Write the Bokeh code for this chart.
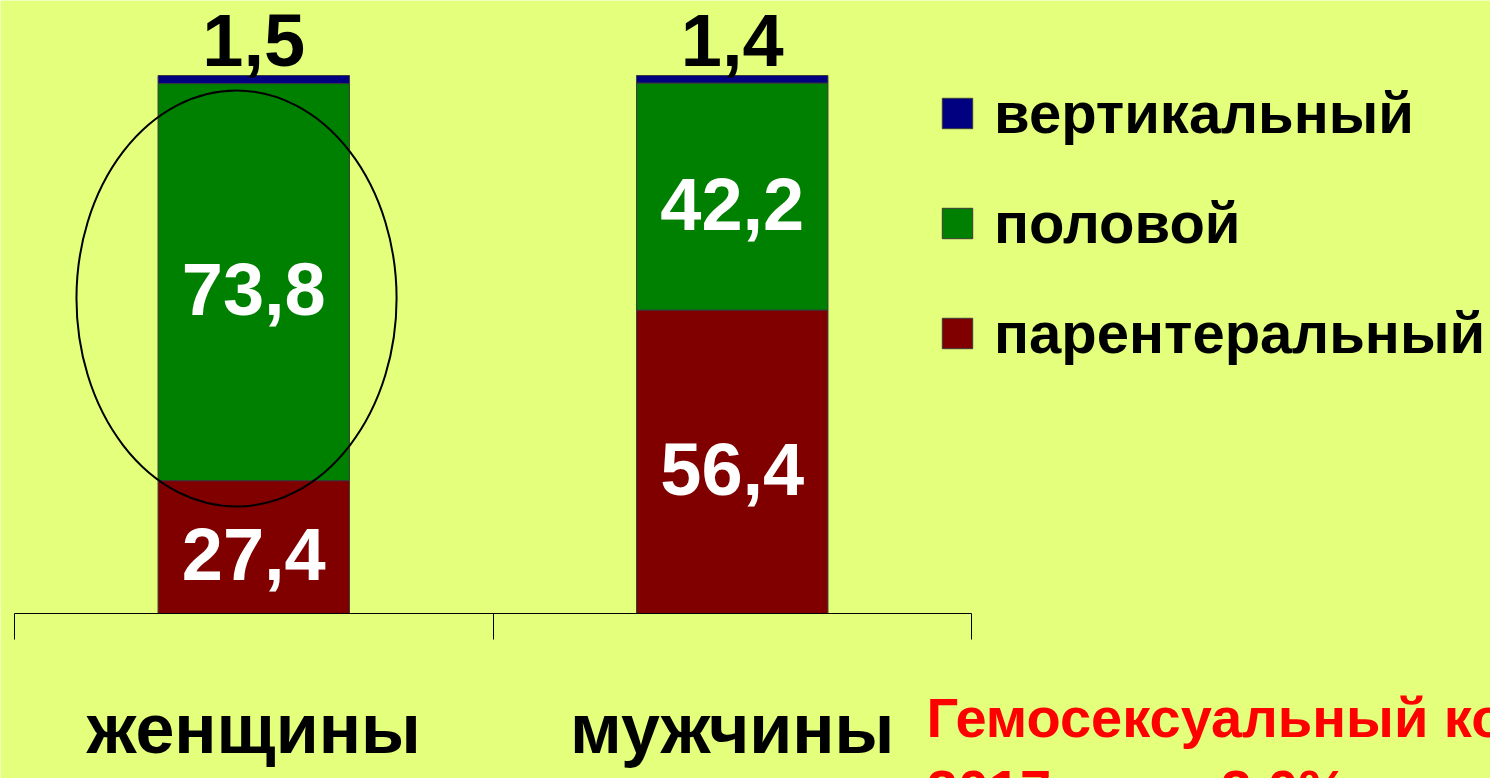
from bokeh.plotting import figure
from bokeh.models import (ColumnDataSource, Range1d, LinearAxis, FixedTicker,
                          Legend, LegendItem, Label)
from bokeh.core.properties import value
from bokeh.embed import file_html
from bokeh.resources import INLINE

# ---------------- data ----------------
categories = ["женщины", "мужчины"]
series_names = ["парентеральный", "половой", "вертикальный"]
# bar heights as drawn in the picture (100 % stacked)
parenteral = [24.7, 56.4]
sexual = [73.8, 42.2]
vertical = [1.5, 1.4]
# value labels printed on the picture
parenteral_labels = ["27,4", "56,4"]
sexual_labels = ["73,8", "42,2"]
vertical_labels = ["1,5", "1,4"]
note_lines = ["Гемосексуальный контакт", "2017 год – 2,0%"]

colors = ["#800000", "#008000", "#000080"]
BG = "#e3ff7c"
FONT = "Liberation Sans"

# ---------------- geometry ----------------
W, H = 1490, 778
PX_X = 478.5          # px per category
PX_Y = 5.38           # px per percent
AXIS_X = 14           # canvas x where the category axis starts
AXIS_Y = 613          # canvas y of the category axis
x0 = -AXIS_X / PX_X
x1 = x0 + W / PX_X
y0 = -(H - AXIS_Y) / PX_Y
y1 = AXIS_Y / PX_Y

xs = [i + 0.5 for i in range(len(categories))]
bottom_sex = parenteral
totals = [a + b + c for a, b, c in zip(parenteral, sexual, vertical)]

src = ColumnDataSource(dict(x=xs, parenteral=parenteral, sexual=sexual, vertical=vertical))

p = figure(width=W, height=H, output_backend="svg", toolbar_location=None,
           x_range=Range1d(x0, x1), y_range=Range1d(y0, y1),
           x_axis_type=None, y_axis_type=None,
           min_border_left=0, min_border_right=0, min_border_top=0,
           min_border_bottom=0)
p.outline_line_color = None
p.background_fill_color = BG
p.border_fill_color = BG
p.grid.visible = False

rs = p.vbar_stack(["parenteral", "sexual", "vertical"], x="x", width=0.4,
                  color=colors, line_color="#3a3a3a", line_width=1, source=src)

# white labels inside segments
lab_src = ColumnDataSource(dict(
    x=xs + xs,
    y=[v / 2 for v in parenteral] + [b + v / 2 for b, v in zip(bottom_sex, sexual)],
    t=parenteral_labels + sexual_labels))
p.text(x="x", y="y", text="t", source=lab_src, text_color="white",
       text_font=value(FONT), text_font_style="bold", text_font_size="74px",
       text_align="center", text_baseline="alphabetic", y_offset=7)

# black labels above bars
top_src = ColumnDataSource(dict(x=xs, y=totals, t=vertical_labels))
p.text(x="x", y="y", text="t", source=top_src, text_color="black",
       text_font=value(FONT), text_font_style="bold", text_font_size="74px",
       text_align="center", text_baseline="alphabetic", y_offset=-36)

# highlight ellipse around the women's sexual share
p.ellipse(x=0.464, y=58.55, width=0.669, height=77.3, fill_color=None,
          line_color="black", line_width=2)

# category axis
ax = LinearAxis(ticker=FixedTicker(ticks=xs, minor_ticks=list(range(len(categories) + 1))),
                bounds=(0, len(categories)), fixed_location=0,
                major_label_overrides={x: c for x, c in zip(xs, categories)})
ax.axis_line_color = "black"
ax.axis_line_width = 1
ax.major_tick_line_color = None
ax.major_tick_in = 0
ax.major_tick_out = 0
ax.minor_tick_line_color = "black"
ax.minor_tick_in = 0
ax.minor_tick_out = 26
ax.major_label_standoff = 50
ax.major_label_text_font = FONT
ax.major_label_text_font_style = "bold"
ax.major_label_text_font_size = "70px"
ax.major_label_text_color = "black"
p.add_layout(ax, "below")

# legend
items = [LegendItem(label=series_names[i], renderers=[rs[i]]) for i in (2, 1, 0)]
legend = Legend(items=items, location=(938, 412), glyph_width=38, glyph_height=38,
                label_text_font=FONT, label_text_font_style="bold",
                label_text_font_size="58px", label_text_color="black",
                spacing=43, padding=0, margin=0, label_standoff=18,
                border_line_color=None, background_fill_alpha=0)
p.add_layout(legend)

# red note
for i, line in enumerate(note_lines):
    p.add_layout(Label(x=(926 - AXIS_X) / PX_X, y=-(104 + 72 * i) / PX_Y, text=line,
                       text_color="#ff0000", text_font=FONT, text_font_style="bold",
                       text_font_size="56px", text_baseline="alphabetic"))

open("out.html", "w").write(file_html(p, INLINE))
